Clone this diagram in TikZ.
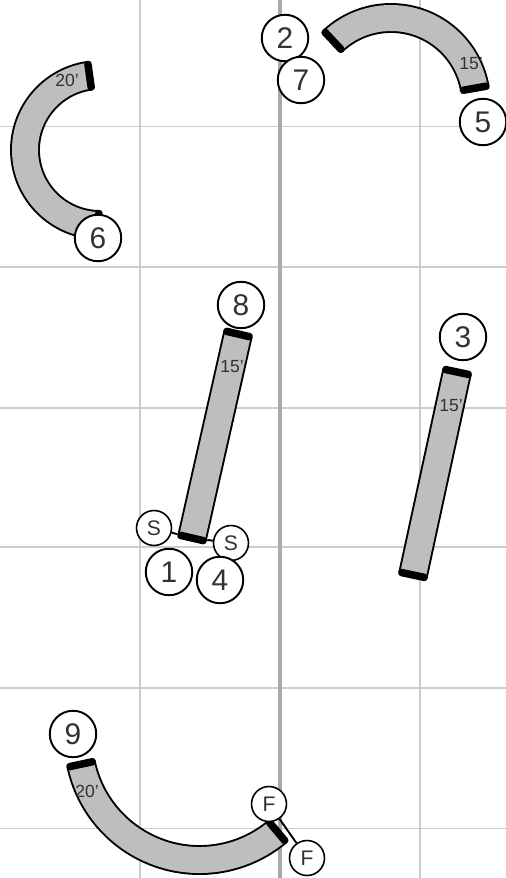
\documentclass[tikz,border=0pt]{standalone}
\usepackage{fontspec}
\setmainfont{Liberation Sans}
\definecolor{pipegray}{RGB}{190,190,190}
\definecolor{gridgray}{RGB}{205,205,205}
\definecolor{midgray}{RGB}{170,170,170}
\definecolor{labelgray}{RGB}{50,50,50}
\tikzset{
  hline/.style={gridgray, line width=0.9pt},
  vline/.style={gridgray, line width=1.2pt},
  midline/.style={midgray, line width=2pt},
  pipe/.style={draw=black, line width=1.1pt, double=pipegray, double distance=14.8pt},
  pipeend/.style={fill=black, rounded corners=1.8pt, inner sep=0pt, minimum width=0.6cm, minimum height=0.15cm},
  cone/.style={circle, draw=black, fill=white, line width=1.1pt, inner sep=0pt, minimum size=0.93cm, text=labelgray, font=\fontsize{17}{20}\selectfont},
  flag/.style={circle, draw=black, fill=white, line width=0.9pt, inner sep=0pt, minimum size=0.7cm, text=labelgray, font=\fontsize{12}{14}\selectfont},
  length/.style={inner sep=0pt, text=labelgray, font=\fontsize{10}{12}\selectfont},
  link/.style={black, line width=1.1pt}
}

\begin{document}
\begin{tikzpicture}[x=0.02cm, y=-0.02cm]
            \useasboundingbox (0,0) rectangle (506,878);

            % Grid
            \draw[vline] (140,0) -- (140,878);
            \draw[vline] (420,0) -- (420,878);
            \draw[hline] (0,126.5) -- (506,126.5);
            \draw[hline] (0,267) -- (506,267);
            \draw[hline] (0,408) -- (506,408);
            \draw[hline] (0,547) -- (506,547);
            \draw[hline] (0,688) -- (506,688);
            \draw[hline] (0,828.5) -- (506,828.5);
            \draw[midline] (280,0) -- (280,878);

            % Curved pipes
            \coordinate (centerSix) at (100,150);
            \draw[pipe] (centerSix) ++(262:75) arc[start angle=262, end angle=91, radius=75];
            \node[pipeend, rotate=-262] (capSixA) at ([shift={(262:75)}]centerSix) {};
            \node[pipeend, rotate=-91] (capSixB) at ([shift={(91:75)}]centerSix) {};

            \coordinate (centerFive) at (391,103);
            \draw[pipe] (centerFive) ++(227:85) arc[start angle=227, end angle=350, radius=85];
            \node[pipeend, rotate=-227] (capFiveA) at ([shift={(227:85)}]centerFive) {};
            \node[pipeend, rotate=-350] (capFiveB) at ([shift={(350:85)}]centerFive) {};

            \coordinate (centerNine) at (199.5,739);
            \draw[pipe] (centerNine) ++(168:121) arc[start angle=168, end angle=50, radius=121];
            \node[pipeend, rotate=-168] (capNineA) at ([shift={(168:121)}]centerNine) {};
            \node[pipeend, rotate=-50] (capNineB) at ([shift={(50:121)}]centerNine) {};

            % Straight pipes
            \coordinate (topEight) at (238,334);
            \coordinate (botEight) at (192,538);
            \draw[pipe] (topEight) -- (botEight);
            \node[pipeend, rotate=-13] (capEightA) at (topEight) {};
            \node[pipeend, rotate=-13] (capEightB) at (botEight) {};

            \coordinate (topThree) at (457,372);
            \coordinate (botThree) at (413,575);
            \draw[pipe] (topThree) -- (botThree);
            \node[pipeend, rotate=-12] (capThreeA) at (topThree) {};
            \node[pipeend, rotate=-12] (capThreeB) at (botThree) {};

            % Lengths
            \node[length] (lenSix) at (67,80) {20'};
            \node[length] (lenFive) at (471,64) {15'};
            \node[length] (lenEight) at (232,367) {15'};
            \node[length] (lenThree) at (451,406) {15'};
            \node[length] (lenNine) at (87,791) {20'};

            % Start and finish flags
            \node[flag] (flagSa) at (154,528) {S};
            \node[flag] (flagSb) at (231,543) {S};
            \node[flag] (flagFa) at (269,804) {F};
            \node[flag] (flagFb) at (307,858) {F};
            \draw[link] (capEightB) -- (flagSa);
            \draw[link] (capEightB) -- (flagSb);
            \draw[link] (flagFa) -- (flagFb);

            % Cones
            \node[cone] (coneOne) at (169,572) {1};
            \node[cone] (coneTwo) at (285,38) {2};
            \node[cone] (coneThree) at (463,337) {3};
            \node[cone] (coneFour) at (220,580) {4};
            \node[cone] (coneFive) at (483,122) {5};
            \node[cone] (coneSix) at (98,238) {6};
            \node[cone] (coneSeven) at (301,80) {7};
            \node[cone] (coneEight) at (241,305) {8};
            \node[cone] (coneNine) at (73,734) {9};
        \end{tikzpicture}
\end{document}
